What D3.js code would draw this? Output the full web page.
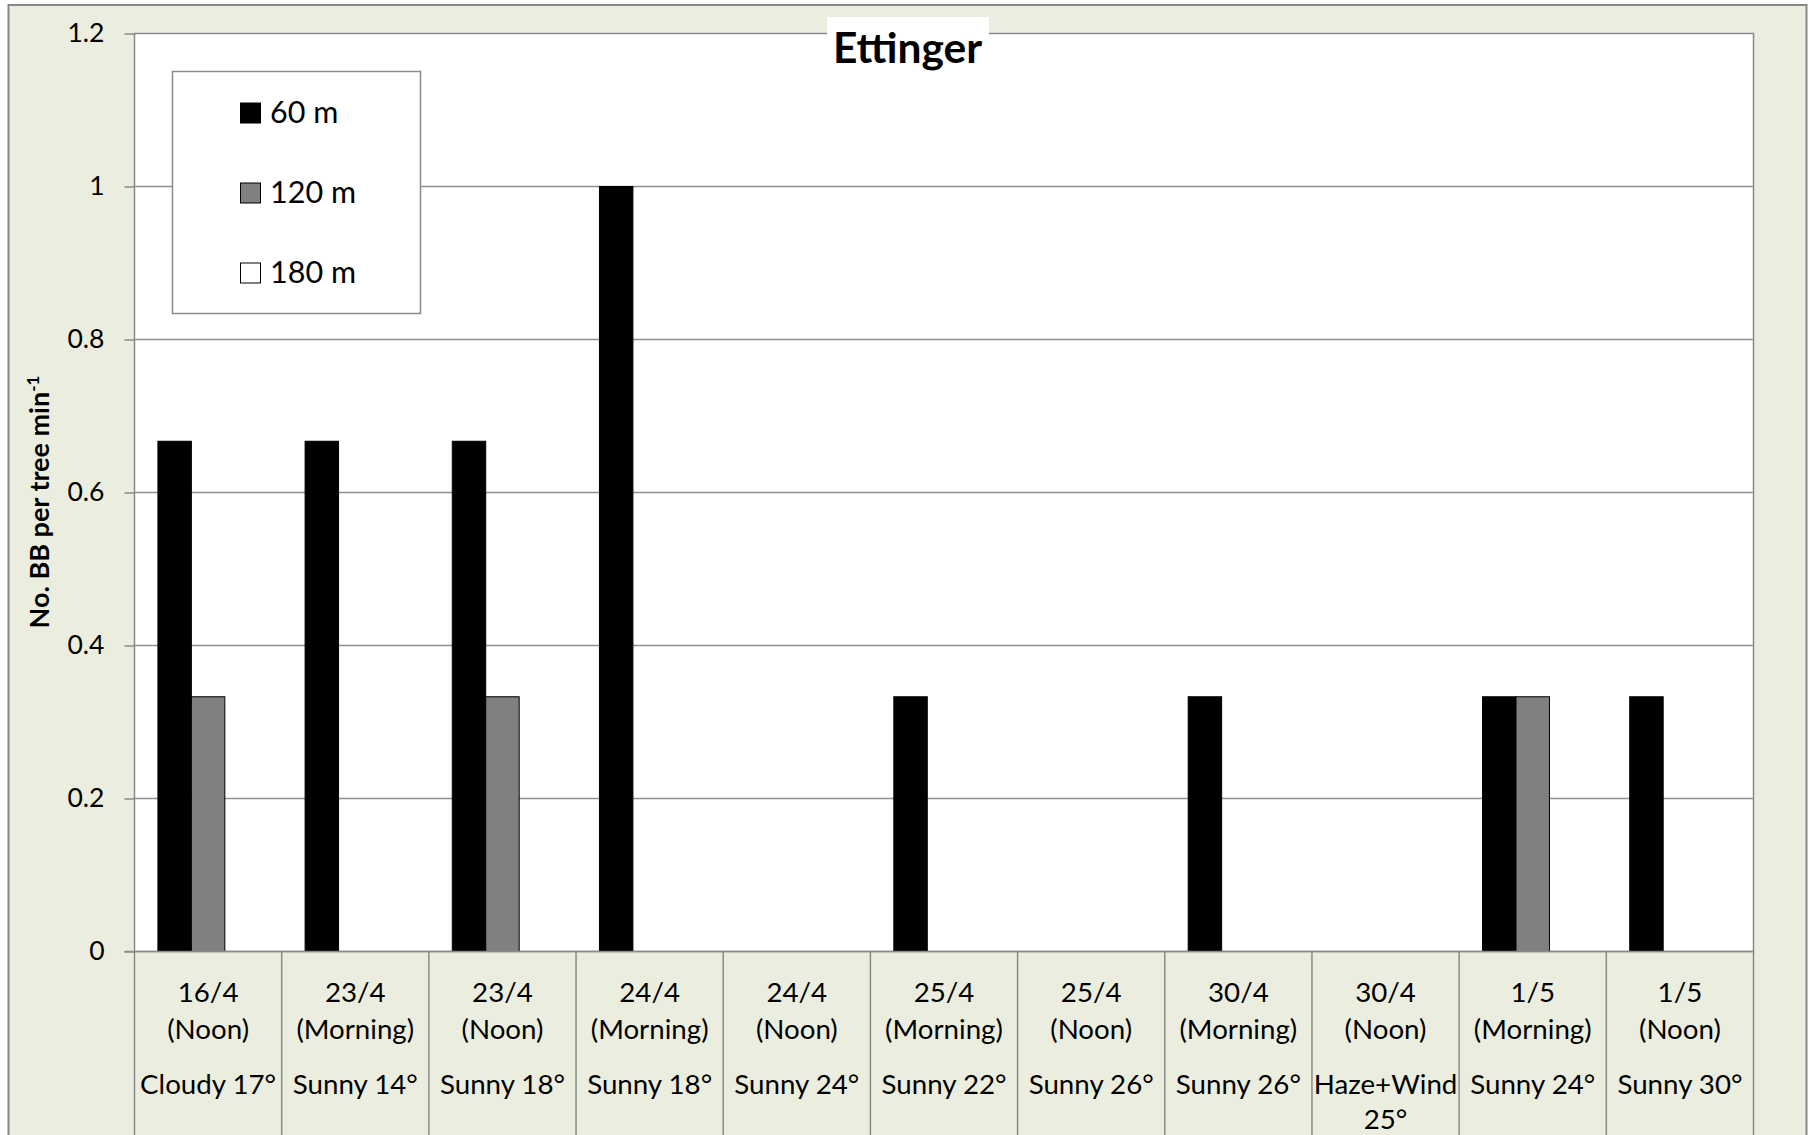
<!DOCTYPE html>
<html>
<head>
<meta charset="utf-8">
<script src="https://cdn.jsdelivr.net/npm/d3@7"></script>
<style>
  html, body { margin: 0; padding: 0; background: #ffffff; }
  svg { display: block; }
  text { font-family: Lato, "Open Sans", "Liberation Sans", sans-serif; fill: #000; }
</style>
</head>
<body>
<svg id="chart" width="1810" height="1135"></svg>
<script>
// Sampling occasions: date, time of day, weather
const dates    = ["16/4", "23/4", "23/4", "24/4", "24/4", "25/4", "25/4", "30/4", "30/4", "1/5", "1/5"];
const times    = ["(Noon)", "(Morning)", "(Noon)", "(Morning)", "(Noon)", "(Morning)", "(Noon)", "(Morning)", "(Noon)", "(Morning)", "(Noon)"];
const weather  = ["Cloudy 17°", "Sunny 14°", "Sunny 18°", "Sunny 18°", "Sunny 24°", "Sunny 22°", "Sunny 26°", "Sunny 26°", "Haze+Wind 25°", "Sunny 24°", "Sunny 30°"];

// Distance classes and bees per tree per minute
const seriesNames = ["60 m", "120 m", "180 m"];
const values60  = [0.667, 0.667, 0.667, 1.0, 0, 0.333, 0, 0.333, 0, 0.333, 0.333];
const values120 = [0.333, 0, 0.333, 0, 0, 0, 0, 0, 0, 0.333, 0];
const values180 = [0, 0, 0, 0, 0, 0, 0, 0, 0, 0, 0];
const seriesColors = ["#000000", "#808080", "#ffffff"];

const yTicks = [0, 0.2, 0.4, 0.6, 0.8, 1, 1.2];

const svg = d3.select("#chart");

// Chart frame
const frame = { left: 8.5, top: 5, right: 1806.5, bottom: 1200 };
const plot = { left: 134.5, top: 33.5, right: 1753.5, bottom: 951.5 };

svg.append("rect")
  .attr("x", frame.left).attr("y", frame.top)
  .attr("width", frame.right - frame.left).attr("height", frame.bottom - frame.top)
  .attr("fill", "#EBEEDF").attr("stroke", "#888888").attr("stroke-width", 2);

svg.append("rect")
  .attr("x", plot.left).attr("y", plot.top)
  .attr("width", plot.right - plot.left).attr("height", plot.bottom - plot.top)
  .attr("fill", "#ffffff").attr("stroke", "#8a8a8a").attr("stroke-width", 1.5);

const idx = d3.range(dates.length);
const x0 = d3.scaleBand().domain(idx).range([plot.left, plot.right]).paddingInner(0).paddingOuter(0);
const x1 = d3.scaleBand().domain(seriesNames).range([0, x0.bandwidth()]).paddingInner(0).paddingOuter(0.7);
const y = d3.scaleLinear().domain([0, 1.2]).range([plot.bottom, plot.top]);

// Horizontal gridlines
svg.append("g")
  .selectAll("line")
  .data(yTicks.filter(t => t > 0 && t < 1.2))
  .join("line")
  .attr("x1", plot.left).attr("x2", plot.right)
  .attr("y1", d => y(d)).attr("y2", d => y(d))
  .attr("stroke", "#8f8f8f").attr("stroke-width", 1.5);

// Y axis with outside ticks
const yAxis = d3.axisLeft(y).tickValues(yTicks).tickSize(10).tickPadding(20)
  .tickFormat(d => d3.format("")(+d.toFixed(1)));
const yg = svg.append("g").attr("transform", `translate(${plot.left},0)`).call(yAxis);
yg.select(".domain").remove();
yg.selectAll(".tick line").attr("stroke", "#8a8a8a").attr("stroke-width", 1.5);
yg.selectAll(".tick text")
  .style("font-family", "Lato, 'Open Sans', sans-serif")
  .style("font-size", "26.5px").attr("fill", "#000");

// Bars
const seriesData = [values60, values120, values180];
const groups = svg.append("g").selectAll("g")
  .data(seriesNames.map((name, si) => ({ name, si, vals: seriesData[si] })))
  .join("g");
groups.selectAll("rect")
  .data(s => s.vals.map((v, i) => ({ v, i, s })).filter(d => d.v > 0))
  .join("rect")
  .attr("x", d => x0(d.i) + x1(d.s.name))
  .attr("width", x1.bandwidth())
  .attr("y", d => y(d.v))
  .attr("height", d => y(0) - y(d.v))
  .attr("fill", d => seriesColors[d.s.si])
  .attr("stroke", "#000").attr("stroke-width", 1);

// Baseline
svg.append("line")
  .attr("x1", plot.left - 10).attr("x2", plot.right)
  .attr("y1", y(0)).attr("y2", y(0))
  .attr("stroke", "#8a8a8a").attr("stroke-width", 1.5);

// Category cell separators below the axis
const bounds = idx.map(i => x0(i)).concat([plot.right]);
svg.append("g").selectAll("line")
  .data(bounds)
  .join("line")
  .attr("x1", d => d).attr("x2", d => d)
  .attr("y1", y(0)).attr("y2", 1200)
  .attr("stroke", "#8a8a8a").attr("stroke-width", 1.5);

// Category labels
const labelFont = "27.7px";
const cats = svg.append("g").selectAll("g")
  .data(idx)
  .join("g")
  .attr("transform", i => `translate(${x0(i) + x0.bandwidth() / 2},0)`);
cats.append("text").attr("y", 1002).attr("text-anchor", "middle")
  .style("font-size", labelFont).text(i => dates[i]);
cats.append("text").attr("y", 1039).attr("text-anchor", "middle")
  .style("font-size", labelFont).text(i => times[i]);
cats.each(function (i) {
  const parts = weather[i] === "Haze+Wind 25°" ? ["Haze+Wind", "25°"] : [weather[i]];
  parts.forEach((p, k) => {
    d3.select(this).append("text").attr("y", 1094 + k * 34.5).attr("text-anchor", "middle")
      .style("font-size", labelFont).text(p);
  });
});

// Title
svg.append("rect")
  .attr("x", 827).attr("y", 17).attr("width", 162).attr("height", 60)
  .attr("fill", "#ffffff");
svg.append("text")
  .attr("x", (frame.left + frame.right) / 2).attr("y", 63)
  .attr("text-anchor", "middle")
  .style("font-size", "42.5px").style("font-weight", "bold")
  .text("Ettinger");

// Y axis title
const yTitle = svg.append("text")
  .attr("transform", `translate(49,502) rotate(-90)`)
  .attr("text-anchor", "middle")
  .style("font-size", "27px").style("font-weight", "bold");
yTitle.append("tspan").text("No. BB per tree min");
yTitle.append("tspan").attr("baseline-shift", "super").style("font-size", "17px").text("-1");

// Legend
const legend = svg.append("g");
legend.append("rect")
  .attr("x", 172.5).attr("y", 71.5).attr("width", 248).attr("height", 242)
  .attr("fill", "#ffffff").attr("stroke", "#8a8a8a").attr("stroke-width", 1.5);
const rows = legend.selectAll("g.row")
  .data(seriesNames)
  .join("g").attr("class", "row")
  .attr("transform", (d, i) => `translate(240,${112.5 + i * 80})`);
rows.append("rect")
  .attr("x", 0.5).attr("y", -9.5).attr("width", 20).attr("height", 20)
  .attr("fill", (d, i) => seriesColors[i]).attr("stroke", "#000").attr("stroke-width", 1);
rows.append("text")
  .attr("x", 30).attr("y", 10.5)
  .style("font-size", "30.5px")
  .text(d => d);
</script>
</body>
</html>
